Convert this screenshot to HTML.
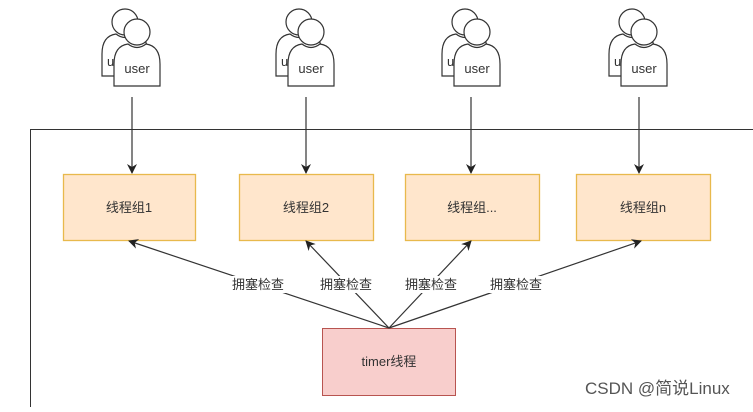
<!DOCTYPE html>
<html><head><meta charset="utf-8"><style>
body{margin:0;background:#fff;}
svg text{font-family:"Liberation Sans","Noto Sans CJK SC",sans-serif;}
</style></head><body>
<svg width="753" height="407" viewBox="0 0 753 407" xmlns="http://www.w3.org/2000/svg">
<defs>
<marker id="a" markerWidth="10" markerHeight="10" refX="9" refY="5" orient="auto" markerUnits="userSpaceOnUse">
<path d="M0,0 L10,5 L0,10 L3,5 z" fill="#222"/></marker>
<g id="p">
<circle cx="0" cy="0" r="13" fill="#fff" stroke="#333" stroke-width="1.2"/>
<path d="M-23,54 L-23,32 Q-23,14 -9,12 Q0,19 9,12 Q23,14 23,32 L23,54 Z" fill="#fff" stroke="#333" stroke-width="1.2"/>
</g>
<g id="u">
<use href="#p" x="-12" y="-10"/>
<text x="-30" y="34" font-size="13" fill="#333">u</text>
<use href="#p" x="0" y="0"/>
<text x="0" y="41" font-size="13" fill="#333" text-anchor="middle">user</text>
</g>
</defs>
<rect x="30.5" y="129.5" width="740" height="300" fill="#fff" stroke="#333" stroke-width="1"/>
<use href="#u" x="137" y="32"/>
<use href="#u" x="311" y="32"/>
<use href="#u" x="477" y="32"/>
<use href="#u" x="644" y="32"/>
<g stroke="#333" stroke-width="1.2" marker-end="url(#a)">
<line x1="132" y1="97" x2="132" y2="173"/>
<line x1="306" y1="97" x2="306" y2="173"/>
<line x1="471" y1="97" x2="471" y2="173"/>
<line x1="639" y1="97" x2="639" y2="173"/>
</g>
<g fill="#ffe6cc" stroke="#e8b94c" stroke-width="1.3">
<rect x="63.5" y="174.5" width="132" height="66"/>
<rect x="239.5" y="174.5" width="134" height="66"/>
<rect x="405.5" y="174.5" width="134" height="66"/>
<rect x="576.5" y="174.5" width="134" height="66"/>
</g>
<g font-size="13" fill="#333" text-anchor="middle">
<text x="129" y="212">线程组1</text>
<text x="306" y="212">线程组2</text>
<text x="472" y="212">线程组...</text>
<text x="643" y="212">线程组n</text>
</g>
<rect x="322.5" y="328.5" width="133" height="67" fill="#f8cecc" stroke="#b85450" stroke-width="1"/>
<text x="389" y="366" font-size="13" fill="#333" text-anchor="middle">timer线程</text>
<g stroke="#333" stroke-width="1.2" marker-end="url(#a)">
<line x1="389" y1="328" x2="129" y2="241"/>
<line x1="389" y1="328" x2="306" y2="241"/>
<line x1="389" y1="328" x2="471" y2="241"/>
<line x1="389" y1="328" x2="641" y2="241"/>
</g>
<g font-size="13" fill="#333" text-anchor="middle">
<rect x="224" y="276" width="68" height="17" fill="#fff"/>
<text x="258" y="289">拥塞检查</text>
<rect x="318" y="276" width="56" height="17" fill="#fff"/>
<text x="346" y="289">拥塞检查</text>
<rect x="403" y="276" width="56" height="17" fill="#fff"/>
<text x="431" y="289">拥塞检查</text>
<rect x="486" y="276" width="60" height="17" fill="#fff"/>
<text x="516" y="289">拥塞检查</text>
</g>
<text x="585" y="394" font-size="17" fill="#555">CSDN @简说Linux</text>
</svg>
</body></html>
